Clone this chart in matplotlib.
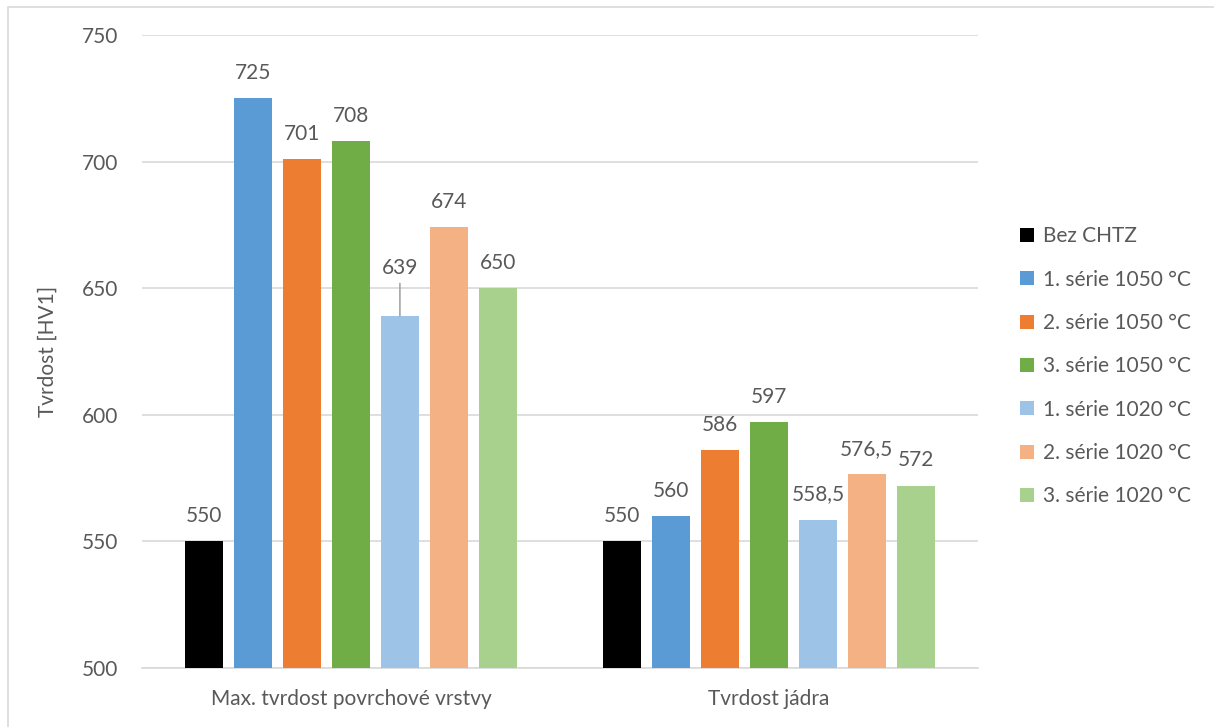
import matplotlib
matplotlib.use("Agg")
import matplotlib.pyplot as plt
from matplotlib.patches import Rectangle
import numpy as np

plt.rcParams['font.family'] = ['Lato', 'DejaVu Sans']

categories = ["Max. tvrdost povrchové vrstvy", "Tvrdost jádra"]
series_names = ["Bez CHTZ", "1. série 1050 °C", "2. série 1050 °C", "3. série 1050 °C",
                "1. série 1020 °C", "2. série 1020 °C", "3. série 1020 °C"]
series_values = [
    [550, 550],
    [725, 560],
    [701, 586],
    [708, 597],
    [639, 558.5],
    [674, 576.5],
    [650, 572],
]
series_colors = ["#000000", "#5B9BD5", "#ED7D31", "#70AD47", "#9DC3E6", "#F4B183", "#A9D18E"]
y_ticks = [500, 550, 600, 650, 700, 750]

text_color = "#595959"
grid_color = "#D9D9D9"
fs = 15

fig = plt.figure(figsize=(12.14, 7.27), dpi=100)
ax = fig.add_axes([142 / 1214, 1 - 668 / 727, (978 - 142) / 1214, (668 - 35) / 727])

# Chart frame
fig.patches.append(Rectangle((8 / 1214, -0.1), 1.2, (727 - 7) / 727 + 0.1,
                             transform=fig.transFigure, fill=False,
                             edgecolor=grid_color, linewidth=1.2))

x = np.arange(len(categories))
step = 0.117
width = 0.091
n = len(series_names)

def fmt(v):
    s = f"{v:g}"
    return s.replace(".", ",")

for i, (name, vals, col) in enumerate(zip(series_names, series_values, series_colors)):
    pos = x + (i - (n - 1) / 2) * step
    ax.bar(pos, np.array(vals) - 500, bottom=500, width=width, color=col, label=name, zorder=3)
    for p, v in zip(pos, vals):
        if name == "1. série 1020 °C" and v == 639:
            # label lifted to the level of the neighbouring label, with a leader line
            ly = 650 + 8
            ax.annotate(fmt(v), xy=(p, v), xytext=(p, ly), ha="center", va="center",
                        fontsize=fs, color=text_color,
                        arrowprops=dict(arrowstyle="-", color="#A6A6A6", lw=1.2,
                                        shrinkA=2, shrinkB=0))
        else:
            ax.text(p, v + 10, fmt(v), ha="center", va="center",
                    fontsize=fs, color=text_color)

ax.set_ylim(500, 750)
ax.set_xlim(-0.5, 1.5)
ax.set_yticks(y_ticks)
ax.set_xticks(x)
ax.set_xticklabels(categories)
ax.tick_params(axis="both", length=0, labelsize=fs, labelcolor=text_color)
ax.tick_params(axis="y", pad=17)
ax.tick_params(axis="x", pad=15)
ax.yaxis.grid(True, color=grid_color, linewidth=1.2, zorder=0)
for s in ["left", "right", "top"]:
    ax.spines[s].set_visible(False)
ax.spines["bottom"].set_color(grid_color)
ax.spines["bottom"].set_linewidth(1.2)
ax.set_ylabel("Tvrdost [HV1]", fontsize=fs, color=text_color)
ax.yaxis.set_label_coords(-84 / 836, 0.5)

leg = fig.legend(loc="upper left", bbox_to_anchor=(1012 / 1214, 1 - 218 / 727),
                 frameon=False, fontsize=fs, labelcolor=text_color,
                 handlelength=0.65, handleheight=0.65, handletextpad=0.45,
                 labelspacing=1.12, borderaxespad=0)

fig.savefig("out.png", dpi=100)
